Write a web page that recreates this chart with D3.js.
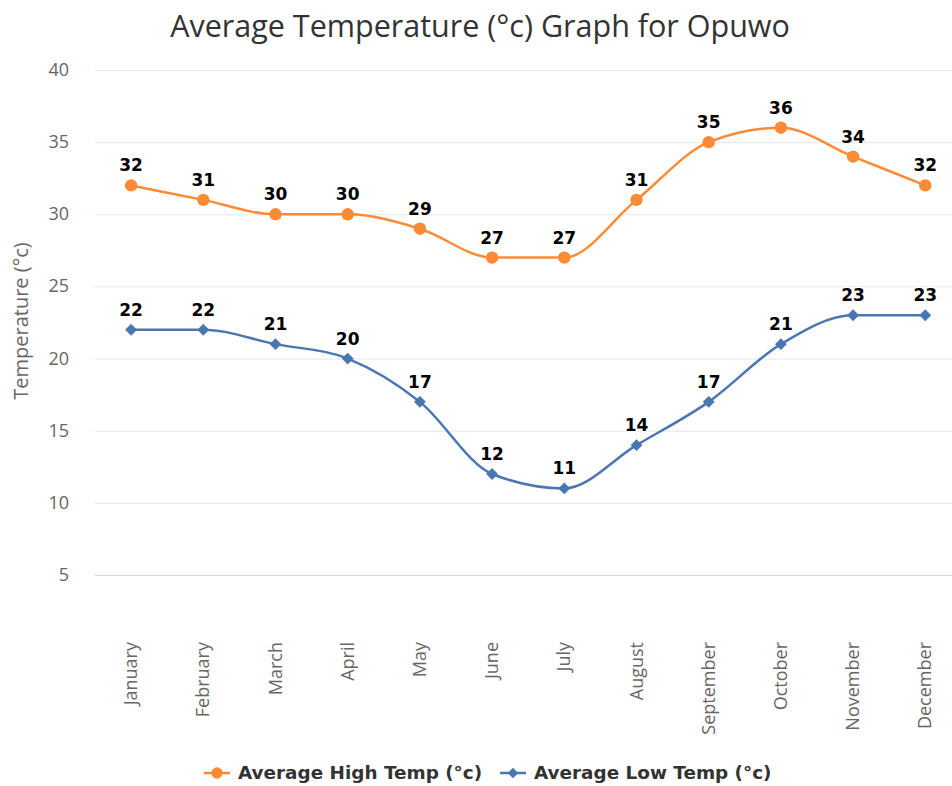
<!DOCTYPE html>
<html>
<head>
<meta charset="utf-8">
<script src="https://cdn.jsdelivr.net/npm/d3@7"></script>
<style>
  body { margin: 0; background: #fff; }
  svg { display: block; font-family: "Open Sans", sans-serif; }
</style>
</head>
<body>
<svg id="chart" width="952" height="786"></svg>
<script>
// Data
const months = ["January", "February", "March", "April", "May", "June",
    "July", "August", "September", "October", "November", "December"];
const highTemps = [32, 31, 30, 30, 29, 27, 27, 31, 35, 36, 34, 32];
const lowTemps = [22, 22, 21, 20, 17, 12, 11, 14, 17, 21, 23, 23];
const yTicks = [5, 10, 15, 20, 25, 30, 35, 40];
const seriesNames = ["Average High Temp (°c)", "Average Low Temp (°c)"];

const orange = "#fd8a35";
const blue = "#4a77b2";
const boldFont = "'DejaVu Sans', sans-serif";

const svg = d3.select("#chart");
const margin = { left: 95, top: 70, bottom: 575 };

const x = d3.scaleBand()
    .domain(months)
    .range([margin.left, margin.left + 12 * 72.2]);

const y = d3.scaleLinear()
    .domain([5, 40])
    .range([margin.bottom, margin.top]);

const cx = m => x(m) + x.bandwidth() / 2;

// Title
svg.append("text")
    .attr("x", 480)
    .attr("y", 37)
    .attr("text-anchor", "middle")
    .style("font-size", "30.5px")
    .style("fill", "#333")
    .text("Average Temperature (°c) Graph for Opuwo");

// Grid lines
svg.append("g")
    .selectAll("line")
    .data(yTicks)
    .enter()
    .append("line")
    .attr("x1", margin.left)
    .attr("x2", 952)
    .attr("y1", d => y(d) + 0.5)
    .attr("y2", d => y(d) + 0.5)
    .attr("stroke", d => d === 5 ? "#ccd6eb" : "#e6e6e6")
    .attr("stroke-width", 1);

// Y axis labels
svg.append("g")
    .selectAll("text")
    .data(yTicks)
    .enter()
    .append("text")
    .attr("x", 69)
    .attr("y", d => y(d) + 6)
    .attr("text-anchor", "end")
    .style("font-size", "18px")
    .style("fill", "#666")
    .text(d => d);

svg.append("text")
    .attr("transform", `translate(28,321) rotate(-90)`)
    .attr("text-anchor", "middle")
    .style("font-size", "20px")
    .style("fill", "#666")
    .text("Temperature (°c)");

// X axis labels
svg.append("g")
    .selectAll("text")
    .data(months)
    .enter()
    .append("text")
    .attr("transform", d => `translate(${cx(d) + 6},642) rotate(-90)`)
    .attr("text-anchor", "end")
    .style("font-size", "18px")
    .style("fill", "#666")
    .text(d => d);

const line = d3.line()
    .x((d, i) => cx(months[i]))
    .y(d => y(d))
    .curve(d3.curveMonotoneX);

// diamonds are squares turned by 45 degrees
function drawSeries(values, color, symbol, size, angle) {
    const g = svg.append("g");
    g.append("path")
        .datum(values)
        .attr("d", line)
        .attr("fill", "none")
        .attr("stroke", color)
        .attr("stroke-width", 2.5);

    g.selectAll("path.marker")
        .data(values)
        .enter()
        .append("path")
        .attr("class", "marker")
        .attr("d", d3.symbol().type(symbol).size(size))
        .attr("transform", (d, i) => `translate(${cx(months[i])},${y(d)}) rotate(${angle})`)
        .attr("fill", color);

    g.selectAll("text")
        .data(values)
        .enter()
        .append("text")
        .attr("x", (d, i) => cx(months[i]))
        .attr("y", d => y(d) - 14)
        .attr("text-anchor", "middle")
        .style("font-family", boldFont)
        .style("font-size", "17px")
        .style("font-weight", "bold")
        .style("fill", "#000")
        .style("stroke", "#fff")
        .style("stroke-width", 3)
        .style("paint-order", "stroke")
        .text(d => d);
}

drawSeries(highTemps, orange, d3.symbolCircle, 120, 0);
drawSeries(lowTemps, blue, d3.symbolSquare, 70, 45);

// Legend
const legendItems = [
    { name: seriesNames[0], color: orange, symbol: d3.symbolCircle, size: 100, angle: 0, x: 204 },
    { name: seriesNames[1], color: blue, symbol: d3.symbolSquare, size: 55, angle: 45, x: 500 }
];
const legend = svg.append("g");
legendItems.forEach(item => {
    const lg = legend.append("g").attr("transform", `translate(${item.x},773)`);
    lg.append("line")
        .attr("x1", 0).attr("x2", 26)
        .attr("stroke", item.color)
        .attr("stroke-width", 2.5);
    lg.append("path")
        .attr("d", d3.symbol().type(item.symbol).size(item.size))
        .attr("transform", `translate(13,0) rotate(${item.angle})`)
        .attr("fill", item.color);
    lg.append("text")
        .attr("x", 34)
        .attr("y", 6)
        .style("font-family", boldFont)
        .style("font-size", "18.4px")
        .style("font-weight", "bold")
        .style("fill", "#333")
        .text(item.name);
});
</script>
</body>
</html>
